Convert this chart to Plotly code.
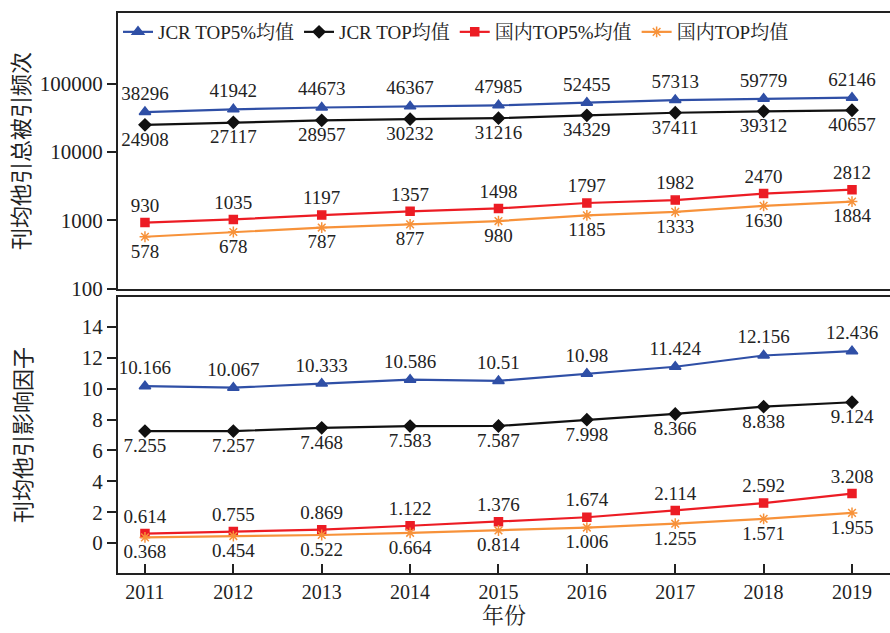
import plotly.graph_objects as go
from plotly.subplots import make_subplots

years = [2011, 2012, 2013, 2014, 2015, 2016, 2017, 2018, 2019]
series_names = ["JCR TOP5%均值", "JCR TOP均值", "国内TOP5%均值", "国内TOP均值"]

cit_jcr_top5 = [38296, 41942, 44673, 46367, 47985, 52455, 57313, 59779, 62146]
cit_jcr_top = [24908, 27117, 28957, 30232, 31216, 34329, 37411, 39312, 40657]
cit_cn_top5 = [930, 1035, 1197, 1357, 1498, 1797, 1982, 2470, 2812]
cit_cn_top = [578, 678, 787, 877, 980, 1185, 1333, 1630, 1884]

if_jcr_top5 = [10.166, 10.067, 10.333, 10.586, 10.51, 10.98, 11.424, 12.156, 12.436]
if_jcr_top = [7.255, 7.257, 7.468, 7.583, 7.587, 7.998, 8.366, 8.838, 9.124]
if_cn_top5 = [0.614, 0.755, 0.869, 1.122, 1.376, 1.674, 2.114, 2.592, 3.208]
if_cn_top = [0.368, 0.454, 0.522, 0.664, 0.814, 1.006, 1.255, 1.571, 1.955]

top_tickvals = [100, 1000, 10000, 100000]
top_ticktext = ["100", "1000", "10000", "100000"]
bot_tickvals = [0, 2, 4, 6, 8, 10, 12, 14]

colors = ["#2f4fa6", "#111111", "#ec1c24", "#f7923a"]
symbols = ["triangle-up", "diamond", "square", "asterisk-open"]
sizes = [10, 9, 8, 9]
positions = ["top center", "bottom center", "top center", "bottom center"]

FONT = "Liberation Serif, Times New Roman, Noto Serif CJK SC, Noto Sans CJK SC, serif"
CJK = "Noto Sans CJK SC, sans-serif"

fig = make_subplots(rows=2, cols=1, shared_xaxes=False, vertical_spacing=0.0146)

top_series = [cit_jcr_top5, cit_jcr_top, cit_cn_top5, cit_cn_top]
bot_series = [if_jcr_top5, if_jcr_top, if_cn_top5, if_cn_top]

for i in range(4):
    fig.add_trace(go.Scatter(
        x=years, y=top_series[i], name=series_names[i],
        mode="lines+markers+text", text=[str(v) for v in top_series[i]],
        textposition=positions[i], textfont=dict(size=19, color="#222", family=FONT),
        line=dict(color=colors[i], width=2.2),
        marker=dict(symbol=symbols[i], size=sizes[i], color=colors[i],
                    line=dict(color=colors[i], width=1.5)),
        legendgroup=str(i), showlegend=True, cliponaxis=False), row=1, col=1)
for i in range(4):
    fig.add_trace(go.Scatter(
        x=years, y=bot_series[i], name=series_names[i],
        mode="lines+markers+text", text=[str(v) for v in bot_series[i]],
        textposition=positions[i], textfont=dict(size=19, color="#222", family=FONT),
        line=dict(color=colors[i], width=2.2),
        marker=dict(symbol=symbols[i], size=sizes[i], color=colors[i],
                    line=dict(color=colors[i], width=1.5)),
        legendgroup=str(i), showlegend=False, cliponaxis=False), row=2, col=1)

axis_common = dict(showgrid=False, zeroline=False, showline=True, linecolor="#222",
                   linewidth=2, tickfont=dict(family=FONT, size=21, color="#222"))

fig.update_xaxes(range=[2010.695, 2019.43], **axis_common)
fig.update_xaxes(row=1, col=1, showticklabels=False, ticks="", mirror=True)
fig.update_xaxes(row=2, col=1, tickvals=years, ticks="inside", ticklen=9, tickwidth=2,
                 tickcolor="#222", mirror=True,
                 tickfont=dict(family=FONT, size=20, color="#222"),
                 title=dict(text="年份", font=dict(family=FONT, size=22, color="#222"), standoff=6))

fig.update_yaxes(row=1, col=1, type="log", range=[2, 6.03], tickvals=top_tickvals,
                 ticktext=top_ticktext, ticks="outside", ticklen=9, tickwidth=2,
                 tickcolor="#222", **axis_common)
fig.update_yaxes(row=1, col=1, title=dict(text="刊均他引总被引频次",
                 font=dict(family=CJK, size=22, color="#222"), standoff=4))
fig.update_yaxes(row=2, col=1, range=[-1.94, 15.94], tickvals=bot_tickvals,
                 ticks="outside", ticklen=9, tickwidth=2, tickcolor="#222", **axis_common)
fig.update_yaxes(row=2, col=1, title=dict(text="刊均他引影响因子",
                 font=dict(family=CJK, size=22, color="#222"), standoff=44))

fig.update_layout(
    width=890, height=633,
    margin=dict(l=118, r=0, t=13, b=60, autoexpand=False),
    plot_bgcolor="white", paper_bgcolor="white",
    font=dict(family=FONT, color="#222"),
    legend=dict(orientation="h", x=0.0, y=1.0, xanchor="left", yanchor="top",
                bgcolor="rgba(0,0,0,0)", font=dict(family=FONT, size=19, color="#222"),
                itemwidth=30, tracegroupgap=0),
)

fig.write_html("out.html", config={"displayModeBar": False},
               post_script="document.body.style.margin='0';document.body.style.padding='0';"
                           "window.dispatchEvent(new Event('resize'));")
